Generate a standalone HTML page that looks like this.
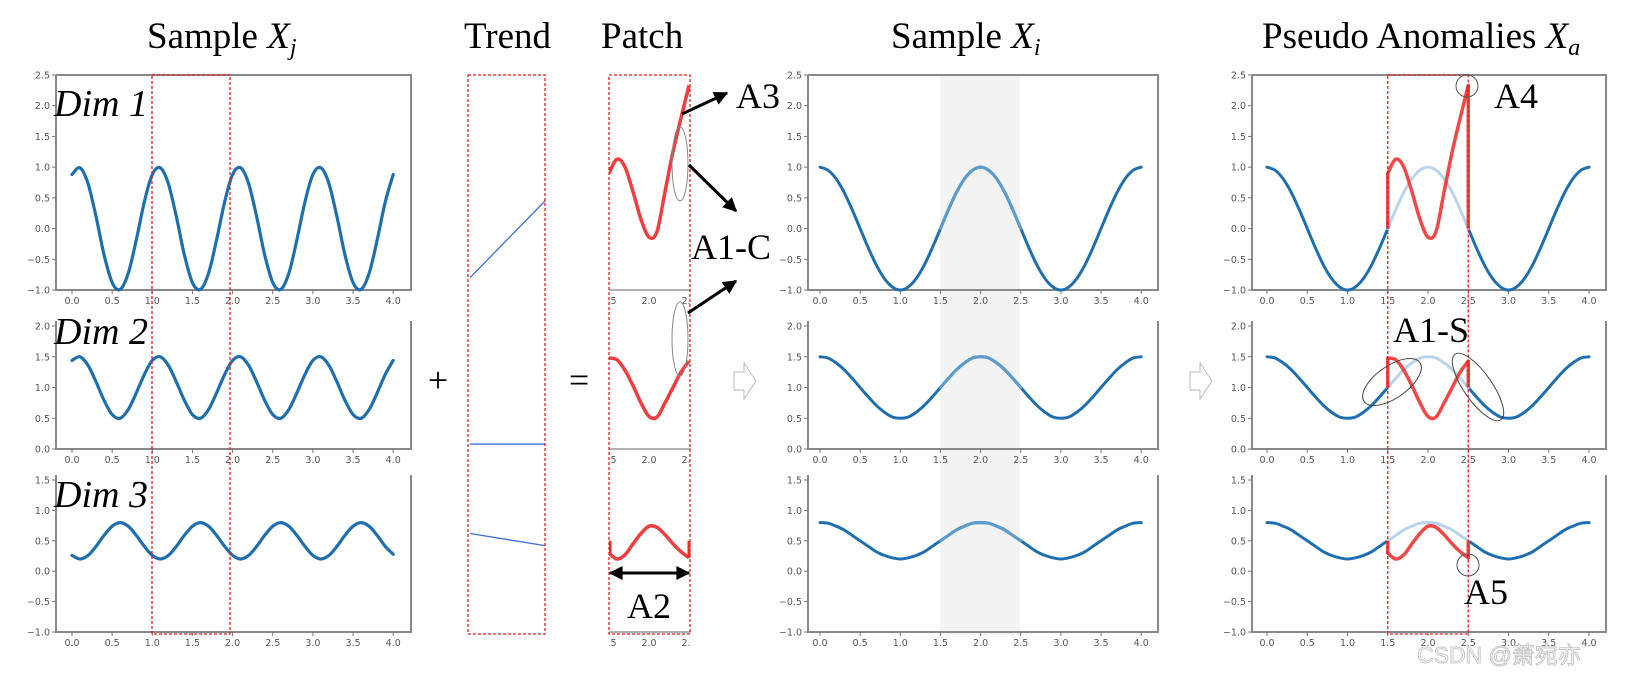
<!DOCTYPE html>
<html><head><meta charset="utf-8">
<style>
html,body{margin:0;padding:0;background:#fff;}
svg{display:block;}
.tk{font-family:"DejaVu Sans","Liberation Sans",sans-serif;font-size:9.5px;fill:#555;}
.ttl{font-family:"Liberation Serif",serif;font-size:37px;fill:#000;}
.dim{font-family:"Liberation Serif",serif;font-style:italic;font-size:38px;fill:#000;}
.ann{font-family:"Liberation Serif",serif;font-size:36px;fill:#000;}
</style></head>
<body>
<svg id="fig" width="1632" height="687" viewBox="0 0 1632 687" xmlns="http://www.w3.org/2000/svg">
<defs>
<marker id="ahb" viewBox="0 0 10 10" refX="9" refY="5" markerWidth="16" markerHeight="14" orient="auto-start-reverse" markerUnits="userSpaceOnUse"><path d="M0,0 L10,5 L0,10 z" fill="#000"/></marker>
<clipPath id="patchclip"><rect x="609" y="60" width="82" height="600"/></clipPath>
</defs>
<g id="titles">
<text class="ttl" x="147" y="48">Sample <tspan font-style="italic">X<tspan font-size="24" dy="7">j</tspan></tspan></text>
<text class="ttl" x="464" y="48">Trend</text>
<text class="ttl" x="601" y="48">Patch</text>
<text class="ttl" x="891" y="48">Sample <tspan font-style="italic">X<tspan font-size="24" dy="7">i</tspan></tspan></text>
<text class="ttl" x="1262" y="48">Pseudo Anomalies <tspan font-style="italic">X<tspan font-size="24" dy="7">a</tspan></tspan></text>
</g>
<rect x="940" y="75" width="80" height="560" fill="#f3f3f3"/>
<g id="plots"></g>
<g id="overlay">
<text class="dim" x="54" y="116">Dim 1</text>
<text class="dim" x="54" y="344">Dim 2</text>
<text class="dim" x="54" y="507">Dim 3</text>
<text x="438" y="392" font-family="Liberation Serif,serif" font-size="36" text-anchor="middle">+</text>
<text x="579" y="392" font-family="Liberation Serif,serif" font-size="36" text-anchor="middle">=</text>
<path d="M734,372 h10 v-9 l12,18 l-12,18 v-9 h-10 z" fill="#fff" stroke="#bbb"/>
<path d="M1190,372 h10 v-9 l12,18 l-12,18 v-9 h-10 z" fill="#fff" stroke="#bbb"/>
<line x1="682" y1="114" x2="727" y2="93" stroke="#000" stroke-width="3" marker-end="url(#ahb)"/>
<text class="ann" x="736" y="108">A3</text>
<ellipse cx="680" cy="164" rx="8" ry="37" fill="none" stroke="#888"/>
<line x1="689" y1="165" x2="736" y2="211" stroke="#000" stroke-width="3" marker-end="url(#ahb)"/>
<text class="ann" x="691" y="259">A1-C</text>
<ellipse cx="680" cy="339" rx="8" ry="37" fill="none" stroke="#888"/>
<line x1="688" y1="313" x2="736" y2="281" stroke="#000" stroke-width="3" marker-end="url(#ahb)"/>
<line x1="610" y1="573" x2="689" y2="573" stroke="#000" stroke-width="3" marker-start="url(#ahb)" marker-end="url(#ahb)"/>
<text class="ann" x="649" y="618" text-anchor="middle">A2</text>
<circle cx="1467" cy="86" r="11" fill="none" stroke="#555"/>
<text class="ann" x="1494" y="108">A4</text>
<text class="ann" x="1393" y="342">A1-S</text>
<ellipse cx="1392" cy="382" rx="34" ry="16" transform="rotate(-35 1392 382)" fill="none" stroke="#444"/>
<ellipse cx="1478" cy="387" rx="40" ry="14" transform="rotate(55 1478 387)" fill="none" stroke="#444"/>
<circle cx="1468" cy="565" r="11" fill="none" stroke="#555"/>
<text class="ann" x="1464" y="604">A5</text>
<text x="1417" y="663" font-family="Liberation Sans,'Noto Sans CJK SC',sans-serif" font-size="23" fill="#fff" stroke="#c8c8c8" stroke-width="1">CSDN @萧宛亦</text>
</g>
</svg>
<script>
// ---- data ----
const xTicks = [0,0.5,1,1.5,2,2.5,3,3.5,4];
const xTickLabels = ["0.0","0.5","1.0","1.5","2.0","2.5","3.0","3.5","4.0"];
const gridX = [0,0.1,0.2,0.3,0.4,0.5,0.6,0.7,0.8,0.9,1,1.1,1.2,1.3,1.4,1.5,1.6,1.7,1.8,1.9,2,2.1,2.2,2.3,2.4,2.5,2.6,2.7,2.8,2.9,3,3.1,3.2,3.3,3.4,3.5,3.6,3.7,3.8,3.9,4];
const patchX = [1.5,1.6,1.7,1.8,1.9,2.0,2.1,2.2,2.3,2.4,2.5];
const sampleJDim1 = [0.88,0.99,0.73,0.19,-0.43,-0.88,-0.99,-0.73,-0.19,0.43,0.88,0.99,0.73,0.19,-0.43,-0.88,-0.99,-0.73,-0.19,0.43,0.88,0.99,0.73,0.19,-0.43,-0.88,-0.99,-0.73,-0.19,0.43,0.88,0.99,0.73,0.19,-0.43,-0.88,-0.99,-0.73,-0.19,0.43,0.88];
const sampleJDim2 = [1.44,1.50,1.36,1.09,0.79,0.56,0.50,0.64,0.91,1.21,1.44,1.50,1.36,1.09,0.79,0.56,0.50,0.64,0.91,1.21,1.44,1.50,1.36,1.09,0.79,0.56,0.50,0.64,0.91,1.21,1.44,1.50,1.36,1.09,0.79,0.56,0.50,0.64,0.91,1.21,1.44];
const sampleJDim3 = [0.26,0.20,0.26,0.41,0.59,0.74,0.80,0.74,0.59,0.41,0.26,0.20,0.26,0.41,0.59,0.74,0.80,0.74,0.59,0.41,0.26,0.20,0.26,0.41,0.59,0.74,0.80,0.74,0.59,0.41,0.26,0.20,0.26,0.41,0.59,0.74,0.80,0.74,0.59,0.41,0.28];
const sampleIDim1 = [1,0.95,0.81,0.59,0.31,0,-0.31,-0.59,-0.81,-0.95,-1,-0.95,-0.81,-0.59,-0.31,0,0.31,0.59,0.81,0.95,1,0.95,0.81,0.59,0.31,0,-0.31,-0.59,-0.81,-0.95,-1,-0.95,-0.81,-0.59,-0.31,0,0.31,0.59,0.81,0.95,1];
const sampleIDim2 = [1.5,1.48,1.40,1.29,1.15,1.0,0.85,0.71,0.60,0.52,0.5,0.52,0.60,0.71,0.85,1.0,1.15,1.29,1.40,1.48,1.5,1.48,1.40,1.29,1.15,1.0,0.85,0.71,0.60,0.52,0.5,0.52,0.60,0.71,0.85,1.0,1.15,1.29,1.40,1.48,1.5];
const sampleIDim3 = [0.8,0.79,0.74,0.68,0.59,0.5,0.41,0.32,0.26,0.22,0.2,0.22,0.26,0.32,0.41,0.5,0.59,0.68,0.74,0.79,0.8,0.79,0.74,0.68,0.59,0.5,0.41,0.32,0.26,0.22,0.2,0.22,0.26,0.32,0.41,0.5,0.59,0.68,0.74,0.79,0.8];
const patchDim1 = [0.9,1.13,1.0,0.6,0.15,-0.14,-0.05,0.6,1.25,1.8,2.33];
const patchDim2 = [1.48,1.45,1.28,1.03,0.75,0.53,0.52,0.75,1.0,1.25,1.43];
const patchDim3 = [0.3,0.2,0.27,0.45,0.62,0.74,0.72,0.6,0.45,0.32,0.22];
const trendX = [1.0,2.0];
const trendDim1 = [-0.8,0.45];
const trendDim2 = [0.08,0.08];
const trendDim3 = [0.62,0.42];
const row1Ticks = [-1,-0.5,0,0.5,1,1.5,2,2.5];
const row2Ticks = [0,0.5,1,1.5,2];
const row3Ticks = [-1,-0.5,0,0.5,1,1.5];

// ---- layout ----
const NS = "http://www.w3.org/2000/svg";
const root = document.getElementById('plots');
const cols = {left:{x0:72,ux:80.3,l:56,r:411}, mid:{x0:820,ux:80.3,l:808,r:1158}, right:{x0:1267,ux:80.5,l:1252,r:1606}};
const rows = [
 {vT:2.5,pT:75,vB:-1,pB:290,ticks:row1Ticks,box:true},
 {vT:2.0,pT:326,vB:0,pB:449,ticks:row2Ticks,box:false},
 {vT:1.5,pT:480,vB:-1,pB:632,ticks:row3Ticks,box:false}
];
function mk(tag, attrs, parent){const e=document.createElementNS(NS,tag);for(const k in attrs)e.setAttribute(k,attrs[k]);(parent||root).appendChild(e);return e;}
function sx(c,x){return c.x0+x*c.ux;}
function sy(r,v){return r.pT+(r.vT-v)*(r.pB-r.pT)/(r.vT-r.vB);}
function smooth(pts){
 let d='M'+pts[0][0].toFixed(1)+','+pts[0][1].toFixed(1);
 for(let i=0;i<pts.length-1;i++){
  const p0=pts[Math.max(0,i-1)],p1=pts[i],p2=pts[i+1],p3=pts[Math.min(pts.length-1,i+2)];
  const c1=[p1[0]+(p2[0]-p0[0])/6,p1[1]+(p2[1]-p0[1])/6],c2=[p2[0]-(p3[0]-p1[0])/6,p2[1]-(p3[1]-p1[1])/6];
  d+=' C'+c1[0].toFixed(1)+','+c1[1].toFixed(1)+' '+c2[0].toFixed(1)+','+c2[1].toFixed(1)+' '+p2[0].toFixed(1)+','+p2[1].toFixed(1);
 }
 return d;
}
function axes(c,r,name){
 const g=mk('g',{});
 
 
 const sp=mk('path',{d:'M'+c.l+','+(r.box?r.pT:r.pT-5)+' V'+r.pB+' H'+c.r+' V'+(r.box?r.pT:r.pT-5)+(r.box?' H'+c.l:''),fill:'none',stroke:'#888','stroke-width':2},g);
 
 
 r.ticks.forEach(v=>{
  const y=sy(r,v);
  mk('line',{x1:c.l-4,x2:c.l,y1:y,y2:y,stroke:'#777'},g);
  const t=mk('text',{x:c.l-6,y:y+3.5,'text-anchor':'end',class:'tk'},g);
  t.textContent=(v<0?'\u2212':'')+Math.abs(v).toFixed(1);
  
  
 });
 xTicks.forEach((v,i)=>{
  const x=sx(c,v);
  mk('line',{x1:x,x2:x,y1:r.pB,y2:r.pB+4,stroke:'#777'},g);
  const t=mk('text',{x:x,y:r.pB+14,'text-anchor':'middle',class:'tk'},g);
  t.textContent=xTickLabels[i];
  
  
 });
}
function curve(c,r,xs,ys,color,w,name,op){
 const p=mk('path',{d:smooth(xs.map((x,i)=>[sx(c,x),sy(r,ys[i])])),fill:'none',stroke:color,'stroke-width':w,'stroke-linecap':'round','stroke-linejoin':'round'});
 if(op) p.setAttribute('stroke-opacity',op);
 
 
 return p;
}
const BLUE='#1f6fb0', RED='#f02828';
const jDims=[sampleJDim1,sampleJDim2,sampleJDim3];
const iDims=[sampleIDim1,sampleIDim2,sampleIDim3];
const pDims=[patchDim1,patchDim2,patchDim3];
const tDims=[trendDim1,trendDim2,trendDim3];
rows.forEach((r,k)=>{
 const n=k+1;
 axes(cols.left,r,'sample-xj-dim'+n+'-axes');
 curve(cols.left,r,gridX,jDims[k],BLUE,3.2,'sample-xj-dim'+n+'-line');
 axes(cols.mid,r,'sample-xi-dim'+n+'-axes');
 curve(cols.mid,r,gridX,iDims[k],BLUE,3,'sample-xi-dim'+n+'-line');
 curve(cols.mid,r,gridX.slice(15,26),iDims[k].slice(15,26),'#5a9bd0',3,'sample-xi-dim'+n+'-patch-segment');
 axes(cols.right,r,'pseudo-anomaly-dim'+n+'-axes');
 curve(cols.right,r,gridX.slice(0,16),iDims[k].slice(0,16),BLUE,3,'pseudo-dim'+n+'-line-before');
 curve(cols.right,r,gridX.slice(25),iDims[k].slice(25),BLUE,3,'pseudo-dim'+n+'-line-after');
 curve(cols.right,r,gridX.slice(15,26),iDims[k].slice(15,26),'#b9d4ec',3,'pseudo-dim'+n+'-faded-original');
 curve(cols.right,r,patchX,pDims[k],RED,3.5,'pseudo-dim'+n+'-anomaly-line',0.85);
 const c=cols.right;
 const j1=mk('line',{x1:sx(c,1.5),x2:sx(c,1.5),y1:sy(r,iDims[k][15]),y2:sy(r,pDims[k][0]),stroke:RED,'stroke-width':3.5,'stroke-opacity':0.85});
 
 
 const j2=mk('line',{x1:sx(c,2.5),x2:sx(c,2.5),y1:sy(r,iDims[k][25]),y2:sy(r,pDims[k][10]),stroke:RED,'stroke-width':3.5,'stroke-opacity':0.85});
 
 
 const pc={x0:609-1.5*80,ux:80};
 const pg=mk('g',{'clip-path':'url(#patchclip)'});
 
 
 const pth=mk('path',{d:smooth(patchX.map((x,i)=>[sx(pc,x),sy(r,pDims[k][i])])),fill:'none',stroke:RED,'stroke-width':3.5,'stroke-opacity':0.9},pg);
 
 
 if(k===2){
  mk('line',{x1:610,x2:610,y1:sy(r,0.5),y2:sy(r,pDims[k][0]),stroke:RED,'stroke-width':3},pg);
  mk('line',{x1:689,x2:689,y1:sy(r,0.5),y2:sy(r,pDims[k][10]),stroke:RED,'stroke-width':3},pg);
 }
 mk('line',{x1:609,x2:691,y1:r.pB,y2:r.pB,stroke:'#999','stroke-width':1.5},pg);
 [1.5,2.0,2.5].forEach(v=>{
  const t=mk('text',{x:sx(pc,v),y:r.pB+14,'text-anchor':'middle',class:'tk'},pg);
  t.textContent=v.toFixed(1);
  
  
 });
 const tc={x0:470-1.0*75,ux:75};
 const tl=mk('line',{x1:sx(tc,trendX[0]),x2:sx(tc,trendX[1]),y1:sy(r,tDims[k][0]),y2:sy(r,tDims[k][1]),stroke:'#3a6fd8','stroke-width':1.3});
 
 
});
[[152,230,'sample-xj-window-box'],[468,545,'trend-box'],[609,690,'patch-box'],[sx(cols.right,1.5),sx(cols.right,2.5),'anomaly-window-box']].forEach(b=>{
 const e=mk('rect',{x:b[0],y:75,width:b[1]-b[0],height:559,fill:'none',stroke:'#e02020','stroke-width':1.3,'stroke-dasharray':'3,2'});
 
 
});
</script>
</body></html>
